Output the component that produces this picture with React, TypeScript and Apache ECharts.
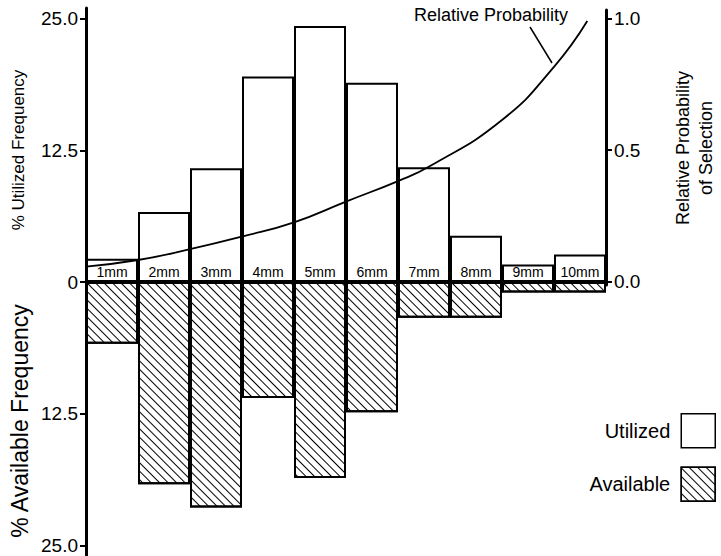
import React, { useEffect, useRef } from 'react';
import * as echarts from 'echarts';

const categories = ['1mm', '2mm', '3mm', '4mm', '5mm', '6mm', '7mm', '8mm', '9mm', '10mm'];
const utilized = [2.2, 6.65, 10.8, 19.5, 24.3, 18.9, 10.9, 4.4, 1.65, 2.6];
const available = [5.85, 19.2, 21.4, 11.0, 18.6, 12.35, 3.4, 3.4, 1.0, 1.0];
const probX = [0, 1, 2, 3, 4, 5, 6, 6.6, 8, 9, 9.64];
const probY = [0.057, 0.082, 0.123, 0.171, 0.225, 0.304, 0.382, 0.437, 0.614, 0.816, 0.99];
const leftTicks = [-25, -12.5, 0, 12.5, 25];
const rightTicks = [0, 0.5, 1.0];

const FONT = '"Liberation Sans", Arial, Helvetica, sans-serif';

export default function App() {
  const ref = useRef<HTMLDivElement>(null);
  useEffect(() => {
    if (!ref.current) return;
    const chart = echarts.init(ref.current, null, { renderer: 'svg' });
    const hatch = {
      symbol: 'rect',
      symbolSize: 1,
      color: '#000',
      backgroundColor: '#fff',
      dashArrayX: [1, 0],
      dashArrayY: [1, 5],
      rotation: Math.PI / 4,
    };
    chart.setOption({
      animation: false,
      backgroundColor: '#fff',
      textStyle: { fontFamily: FONT, color: '#000' },
      grid: [
        { left: 86, top: 8, width: 520, height: 548 },
        { left: 86, top: 10, width: 520, height: 275 },
      ],
      xAxis: [
        {
          type: 'category',
          gridIndex: 0,
          data: categories,
          z: 10,
          axisLine: { show: false },
          axisTick: { show: false },
          axisLabel: { show: false },
          splitLine: { show: false },
        },
        {
          type: 'value',
          gridIndex: 1,
          min: 0,
          max: 10,
          show: false,
        },
      ],
      yAxis: [
        {
          type: 'value',
          gridIndex: 0,
          min: -26,
          max: 26,
          position: 'left',
          z: 10,
          axisLine: { show: true, onZero: false, lineStyle: { color: '#000', width: 3 } },
          axisTick: { show: true, customValues: leftTicks, length: 6, lineStyle: { color: '#000', width: 2 } },
          axisLabel: {
            customValues: leftTicks,
            formatter: (v: number) => (v === 0 ? '0' : Math.abs(v).toFixed(1)),
            fontSize: 19,
            color: '#000',
            margin: 8,
            fontFamily: FONT,
          },
          splitLine: { show: false },
        },
        {
          type: 'value',
          gridIndex: 1,
          min: -0.013,
          max: 1.032,
          position: 'right',
          z: 10,
          axisLine: { show: true, onZero: false, lineStyle: { color: '#000', width: 3 } },
          axisTick: { show: true, customValues: rightTicks, length: 6, lineStyle: { color: '#000', width: 2 } },
          axisLabel: {
            customValues: rightTicks,
            formatter: (v: number) => v.toFixed(1),
            fontSize: 19,
            color: '#000',
            margin: 8,
            fontFamily: FONT,
          },
          splitLine: { show: false },
        },
      ],
      legend: {
        data: ['Utilized', 'Available'],
        orient: 'vertical',
        right: 5,
        top: 413,
        padding: 0,
        itemWidth: 34,
        itemHeight: 34,
        itemGap: 18,
        align: 'right',
        icon: 'rect',
        selectedMode: false,
        itemStyle: { borderColor: '#000', borderWidth: 1.5 },
        textStyle: { fontSize: 20, color: '#000', fontFamily: FONT, padding: [0, 6, 0, 0] },
      },
      series: [
        {
          name: 'Utilized',
          type: 'bar',
          xAxisIndex: 0,
          yAxisIndex: 0,
          data: utilized,
          barGap: '-100%',
          barCategoryGap: '0%',
          itemStyle: { color: '#fff', borderColor: '#000', borderWidth: 2 },
          label: {
            show: true,
            position: 'insideBottom',
            distance: 3,
            formatter: (p: any) => p.name,
            fontSize: 14,
            color: '#000',
            fontFamily: FONT,
          },
          z: 2,
        },
        {
          name: 'Available',
          type: 'bar',
          xAxisIndex: 0,
          yAxisIndex: 0,
          data: available.map((v) => -v),
          barGap: '-100%',
          barCategoryGap: '0%',
          itemStyle: { color: '#fff', borderColor: '#000', borderWidth: 2, decal: hatch },
          z: 2,
        },
        {
          name: 'Relative Probability',
          type: 'line',
          xAxisIndex: 1,
          yAxisIndex: 1,
          data: probX.map((x, i) => [x, probY[i]]),
          smooth: true,
          showSymbol: false,
          lineStyle: { color: '#000', width: 1.8 },
          z: 5,
        },
      ],
      graphic: [
        {
          type: 'text', x: 18, y: 150, rotation: Math.PI / 2,
          style: { text: '% Utilized Frequency', fontSize: 17, fontFamily: FONT, fill: '#000', align: 'center', verticalAlign: 'middle' },
        },
        {
          type: 'text', x: 20, y: 421, rotation: Math.PI / 2,
          style: { text: '% Available Frequency', fontSize: 23, fontFamily: FONT, fill: '#000', align: 'center', verticalAlign: 'middle' },
        },
        {
          type: 'text', x: 683, y: 148, rotation: Math.PI / 2,
          style: { text: 'Relative Probability', fontSize: 18, fontFamily: FONT, fill: '#000', align: 'center', verticalAlign: 'middle' },
        },
        {
          type: 'text', x: 706, y: 148, rotation: Math.PI / 2,
          style: { text: 'of Selection', fontSize: 18, fontFamily: FONT, fill: '#000', align: 'center', verticalAlign: 'middle' },
        },
        {
          type: 'text', x: 491, y: 15,
          style: { text: 'Relative Probability', fontSize: 18, fontFamily: FONT, fill: '#000', align: 'center', verticalAlign: 'middle' },
        },
        {
          type: 'line',
          shape: { x1: 530, y1: 27, x2: 552, y2: 63 },
          style: { stroke: '#000', lineWidth: 1.5 },
        },
      ],
    });
    return () => chart.dispose();
  }, []);
  return <div ref={ref} style={{ position: 'fixed', left: 0, top: 0, width: 721, height: 556 }} />;
}
